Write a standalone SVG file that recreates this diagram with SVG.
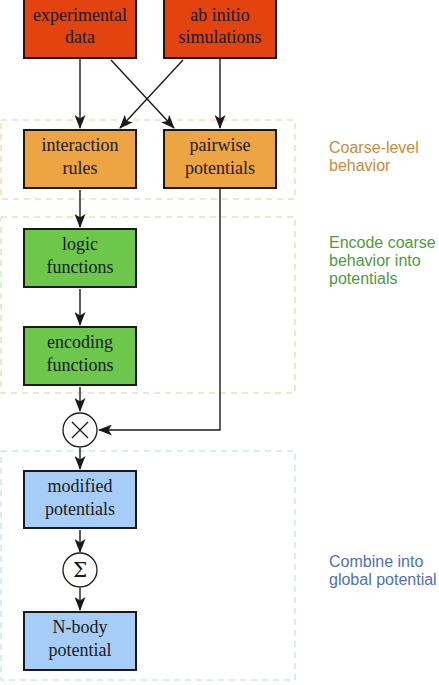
<svg xmlns="http://www.w3.org/2000/svg" width="439" height="685" viewBox="0 0 439 685">
<defs>
<style>
.box{stroke:#1a1a1a;stroke-width:2}
.red{fill:#E2430F}
.org{fill:#EDA443}
.grn{fill:#6CC74A}
.blu{fill:#A6CDF7}
.bt{font-family:"Liberation Serif","Times New Roman",serif;font-size:18px;fill:#1a1a1a;text-anchor:middle}
.lbl{font-family:"Liberation Sans",Arial,sans-serif;font-size:16px}
.grp{fill:none;stroke-width:1;stroke-dasharray:6,5}
.con{fill:none;stroke:#1a1a1a;stroke-width:1.4}
.op{fill:#fff;stroke:#1a1a1a;stroke-width:1.3}
</style>
<marker id="ah" viewBox="0 0 14 11" refX="13" refY="5.5" markerWidth="14" markerHeight="11" markerUnits="userSpaceOnUse" orient="auto">
<path d="M0,0 L14,5.5 L0,11 L3.5,5.5 z" fill="#1a1a1a"/>
</marker>
</defs>
<rect width="439" height="685" fill="#fff"/>
<g id="groups">
<rect id="grp-coarse" class="grp" x="1" y="120" width="294" height="79" stroke="#F2C98C"/>
<rect id="grp-encode" class="grp" x="1" y="217" width="294" height="176" stroke="#BCE29A"/>
<rect id="grp-combine" class="grp" x="1" y="451" width="294" height="229" stroke="#B5D5F2"/>
</g>
<g id="connectors">
<line class="con" x1="80" y1="59" x2="80" y2="128" marker-end="url(#ah)"/>
<line class="con" x1="111" y1="60" x2="174" y2="128" marker-end="url(#ah)"/>
<line class="con" x1="183" y1="60" x2="120" y2="128" marker-end="url(#ah)"/>
<line class="con" x1="220" y1="59" x2="220" y2="128" marker-end="url(#ah)"/>
<line class="con" x1="80" y1="190" x2="80" y2="227" marker-end="url(#ah)"/>
<line class="con" x1="80" y1="289" x2="80" y2="325" marker-end="url(#ah)"/>
<line class="con" x1="80" y1="387" x2="80" y2="411" marker-end="url(#ah)"/>
<polyline class="con" points="220,189 220,430 99,430" marker-end="url(#ah)"/>
<line class="con" x1="80" y1="448" x2="80" y2="469" marker-end="url(#ah)"/>
<line class="con" x1="80" y1="530" x2="80" y2="552" marker-end="url(#ah)"/>
<line class="con" x1="80" y1="588" x2="80" y2="610" marker-end="url(#ah)"/>
</g>
<g id="n-exp"><rect class="box red" x="24" y="-2" width="112" height="60"/><text class="bt" x="80" y="21">experimental</text><text class="bt" x="80" y="43">data</text></g>
<g id="n-abinitio"><rect class="box red" x="164" y="-2" width="112" height="60"/><text class="bt" x="220" y="21">ab initio</text><text class="bt" x="220" y="43">simulations</text></g>
<g id="n-rules"><rect class="box org" x="24" y="130" width="112" height="58"/><text class="bt" x="80" y="151">interaction</text><text class="bt" x="80" y="174">rules</text></g>
<g id="n-pair"><rect class="box org" x="164" y="130" width="112" height="58"/><text class="bt" x="220" y="151">pairwise</text><text class="bt" x="220" y="174">potentials</text></g>
<g id="n-logic"><rect class="box grn" x="24" y="229" width="112" height="58"/><text class="bt" x="80" y="250">logic</text><text class="bt" x="80" y="273">functions</text></g>
<g id="n-encoding"><rect class="box grn" x="24" y="327" width="112" height="58"/><text class="bt" x="80" y="348">encoding</text><text class="bt" x="80" y="371">functions</text></g>
<g id="n-times"><circle class="op" cx="80" cy="430" r="17"/><path d="M72,422 L88,438 M88,422 L72,438" stroke="#1a1a1a" stroke-width="1.3"/></g>
<g id="n-modified"><rect class="box blu" x="24" y="471" width="112" height="57"/><text class="bt" x="80" y="492">modified</text><text class="bt" x="80" y="515">potentials</text></g>
<g id="n-sum"><circle class="op" cx="80" cy="570" r="17"/><text x="80" y="577" text-anchor="middle" font-family="'DejaVu Serif',serif" font-size="20" fill="#1a1a1a">Σ</text></g>
<g id="n-nbody"><rect class="box blu" x="24" y="612" width="112" height="58"/><text class="bt" x="80" y="633">N-body</text><text class="bt" x="80" y="656">potential</text></g>
<g id="labels">
<text class="lbl" fill="#C98B3A"><tspan x="329" y="153">Coarse-level</tspan><tspan x="329" y="171">behavior</tspan></text>
<text class="lbl" fill="#4E9A3E"><tspan x="329" y="248">Encode coarse</tspan><tspan x="329" y="266">behavior into</tspan><tspan x="329" y="284">potentials</tspan></text>
<text class="lbl" fill="#4F6EC0"><tspan x="329" y="567">Combine into</tspan><tspan x="329" y="585">global potential</tspan></text>
</g>
</svg>
